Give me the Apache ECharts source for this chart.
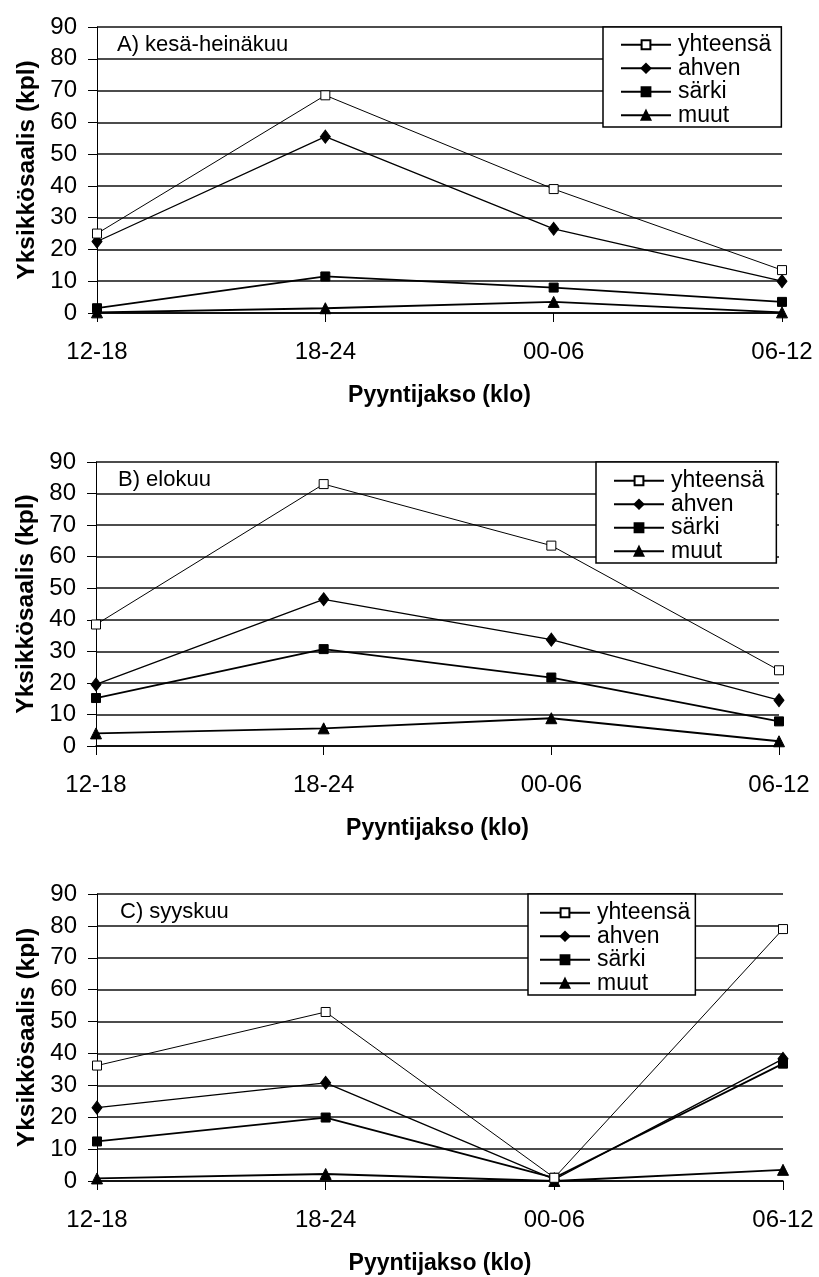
<!DOCTYPE html>
<html>
<head>
<meta charset="utf-8">
<script src="https://cdn.jsdelivr.net/npm/echarts@6/dist/echarts.min.js"></script>
<style>
html,body{margin:0;padding:0;background:#fff;}
#c{width:819px;height:1277px;}
</style>
</head>
<body>
<div id="c"></div>
<script>
// ---- data ----
const categories = ['12-18', '18-24', '00-06', '06-12'];
const seriesNames = ['yhteensä', 'ahven', 'särki', 'muut'];
const panelTitles = ['A) kesä-heinäkuu', 'B) elokuu', 'C) syyskuu'];
const yTicks = [0, 10, 20, 30, 40, 50, 60, 70, 80, 90];

const A_yhteensa = [25, 68.5, 39, 13.5];
const A_ahven    = [22.5, 55.5, 26.5, 10];
const A_sarki    = [1.5, 11.5, 8, 3.5];
const A_muut     = [0.2, 1.5, 3.5, 0.2];

const B_yhteensa = [38.5, 83, 63.5, 24];
const B_ahven    = [19.5, 46.5, 33.7, 14.5];
const B_sarki    = [15.2, 30.7, 21.7, 7.8];
const B_muut     = [4, 5.6, 8.8, 1.5];

const C_yhteensa = [36.2, 53, 1, 79];
const C_ahven    = [23, 30.8, 0.5, 38.3];
const C_sarki    = [12.4, 19.9, 1, 36.8];
const C_muut     = [0.8, 2.2, 0, 3.5];

const panelData = [
  [A_yhteensa, A_ahven, A_sarki, A_muut],
  [B_yhteensa, B_ahven, B_sarki, B_muut],
  [C_yhteensa, C_ahven, C_sarki, C_muut]
];

// ---- layout ----
const FONT = "'Liberation Sans', Arial, sans-serif";
const grids = [
  {left: 97, top: 27, width: 685, height: 286},
  {left: 96, top: 462, width: 683, height: 284},
  {left: 97, top: 894, width: 686, height: 287}
];
const legendPos = [
  {left: 603, top: 27, padding: [6, 10, 0, 17]},
  {left: 596, top: 462, padding: [7, 12, 0, 17]},
  {left: 528, top: 894, padding: [7, 5, 0, 11]}
];
const titlePos = [
  {left: 117, top: 33},
  {left: 118, top: 468},
  {left: 120, top: 900}
];

const seriesStyle = [
  {symbol: 'rect', symbolSize: 9, lineWidth: 1, fill: '#fff'},
  {symbol: 'diamond', symbolSize: [10, 13], lineWidth: 1.3, fill: '#000'},
  {symbol: 'rect', symbolSize: 9, lineWidth: 1.8, fill: '#000'},
  {symbol: 'triangle', symbolSize: 11, lineWidth: 1.8, fill: '#000'}
];

const option = {
  backgroundColor: '#fff',
  animation: false,
  title: [], grid: [], xAxis: [], yAxis: [], legend: [], series: []
};

for (let p = 0; p < 3; p++) {
  option.grid.push(Object.assign({containLabel: false}, grids[p]));
  option.title.push(Object.assign({
    text: panelTitles[p],
    textStyle: {fontFamily: FONT, fontSize: 22, fontWeight: 'normal', color: '#000', lineHeight: 24},
    padding: 0
  }, titlePos[p]));
  option.xAxis.push({
    type: 'category', gridIndex: p, data: categories, boundaryGap: false,
    axisLine: {show: true, lineStyle: {color: '#000', width: 1.5}},
    axisTick: {show: true, length: 9, inside: false, lineStyle: {color: '#000', width: 1}},
    axisLabel: {fontFamily: FONT, fontSize: 24, color: '#000', margin: 27},
    splitLine: {show: false},
    name: 'Pyyntijakso (klo)', nameLocation: 'middle', nameGap: 71,
    nameTextStyle: {fontFamily: FONT, fontSize: 23, fontWeight: 'bold', color: '#000'}
  });
  option.yAxis.push({
    type: 'value', gridIndex: p, min: yTicks[0], max: yTicks[yTicks.length - 1],
    interval: yTicks[1] - yTicks[0],
    axisLine: {show: true, lineStyle: {color: '#000', width: 1}},
    axisTick: {show: true, length: 9, lineStyle: {color: '#000', width: 1}},
    axisLabel: {fontFamily: FONT, fontSize: 24, color: '#000', margin: 20},
    splitLine: {show: true, lineStyle: {color: '#111', width: 1.5}},
    name: 'Yksikkösaalis (kpl)', nameLocation: 'middle', nameGap: 57,
    nameTextStyle: {fontFamily: FONT, fontSize: 24.5, fontWeight: 'bold', color: '#000'}
  });
  option.legend.push(Object.assign({
    orient: 'vertical',
    data: seriesNames,
    itemWidth: 50, itemHeight: 11, itemGap: 0,
    backgroundColor: '#fff',
    borderColor: '#000', borderWidth: 1.5, borderRadius: 0,
    selectedMode: false,
    textStyle: {fontFamily: FONT, fontSize: 23, color: '#000', lineHeight: 23.5, padding: [0, 0, 0, 2]}
  }, legendPos[p]));
  for (let s = 0; s < 4; s++) {
    const st = seriesStyle[s];
    option.series.push({
      type: 'line', name: seriesNames[s],
      xAxisIndex: p, yAxisIndex: p,
      data: panelData[p][s],
      symbol: st.symbol, symbolSize: st.symbolSize,
      showAllSymbol: true,
      lineStyle: {color: '#000', width: st.lineWidth},
      itemStyle: {color: st.fill, borderColor: '#000', borderWidth: 1},
      z: 10 - s
    });
  }
}

const chart = echarts.init(document.getElementById('c'), null, {renderer: 'canvas'});
chart.setOption(option);
</script>
</body>
</html>
